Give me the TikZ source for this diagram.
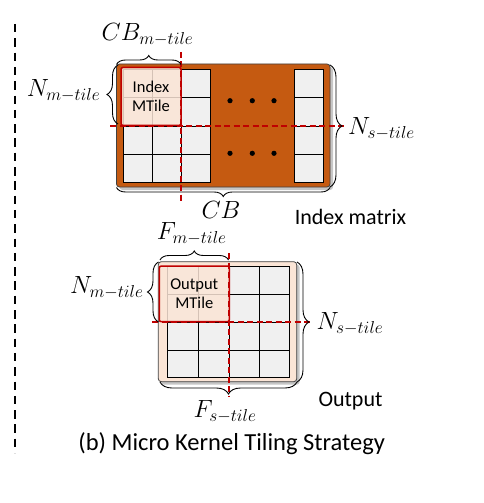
\documentclass[tikz,border=0pt]{standalone}
\usepackage{fontspec}
\setmainfont{Carlito}
\usetikzlibrary{shapes,arrows.meta,positioning,calc,shadows,decorations.pathreplacing}
\definecolor{idxbrown}{HTML}{C55A11}
\definecolor{tilepeach}{HTML}{FBE5D6}
\definecolor{tilered}{HTML}{C00000}
\definecolor{cellgray}{HTML}{F0F0F0}

\begin{document}
\begin{tikzpicture}[x=1pt, y=-1pt,
    matbox/.style={rectangle, draw=black!75, line width=0.8pt, rounded corners=3pt, inner sep=0pt, drop shadow={shadow xshift=3pt, shadow yshift=-3pt, opacity=0.45}},
    mtile/.style={rectangle, draw=tilered, line width=1.5pt, rounded corners=2pt, fill=tilepeach, fill opacity=0.85, text opacity=1, inner sep=0pt, align=center, font=\fontsize{16.5}{19.5}\selectfont},
    cell/.style={fill=cellgray, draw=black, line width=1pt},
    cut/.style={tilered, line width=1.1pt, dash pattern=on 6pt off 3.5pt},
    brc/.style={decorate, decoration={brace, amplitude=#1}, line width=0.9pt},
    mlbl/.style={font=\fontsize{24}{26}\selectfont, inner sep=0pt},
    tlbl/.style={font=\fontsize{22}{24}\selectfont, inner sep=0pt}
]
    \useasboundingbox (0,0) rectangle (483,503);

    % Separator on the left
    \draw[line width=2pt, dash pattern=on 8.5pt off 5.8pt] (15,24) -- (15,453);

    % Index matrix (top)
    \node[matbox, fill=idxbrown, minimum width=213.5pt, minimum height=123pt] (idxmat) at (223.25,125.5) {};
    \draw[cell] (123.5,69.3) rectangle (210,182.5);
    \draw[line width=1pt] (152.7,69.3) -- (152.7,182.5) (181,69.3) -- (181,182.5)
        (123.5,97.7) -- (210,97.7) (123.5,126) -- (210,126) (123.5,154.3) -- (210,154.3);
    \draw[cell] (294.3,69.3) rectangle (323.3,182.5);
    \draw[line width=1pt] (294.3,97.7) -- (323.3,97.7) (294.3,126) -- (323.3,126) (294.3,154.3) -- (323.3,154.3);
    \fill (230,100.7) circle (2.6pt) (252.3,100.7) circle (2.6pt) (274,100.7) circle (2.6pt);
    \fill (230,153.3) circle (2.6pt) (252.3,153.3) circle (2.6pt) (274,153.3) circle (2.6pt);
    \node[mtile, minimum width=60pt, minimum height=58pt] (idxtile) at (151,96.4) {Index\\MTile};

    % Tiling cuts and braces of the index matrix
    \draw[cut] (181,52) -- (181,203);
    \draw[cut] (110,126) -- (347,126);
    \draw[brc=9] (116.5,64.5) -- (181,64.5);
    \draw[brc=11] (118,124) -- (118,65);
    \draw[brc=12] (330,65) -- (330,187);
    \draw[brc=9] (330,187.5) -- (116.5,187.5);

    \node[mlbl] (cbm) at (147.5,35) {$CB_{m-tile}$};
    \node[mlbl] (nmi) at (63.5,91) {$N_{m-tile}$};
    \node[mlbl] (nsi) at (381.5,129) {$N_{s-tile}$};
    \node[mlbl] (cb) at (221,210) {$CB$};
    \node[tlbl] (idxlbl) at (350.5,216.5) {Index matrix};

    % Output matrix (bottom)
    \node[matbox, fill=tilepeach, minimum width=138.4pt, minimum height=120pt] (outmat) at (227.5,321.7) {};
    \draw[cell] (167.7,266.7) rectangle (289,377.7);
    \draw[line width=1pt] (198.7,266.7) -- (198.7,377.7) (229,266.7) -- (229,377.7) (259,266.7) -- (259,377.7)
        (167.7,294.3) -- (289,294.3) (167.7,322.3) -- (289,322.3) (167.7,350.7) -- (289,350.7);
    \node[mtile, minimum width=70pt, minimum height=55.7pt] (outtile) at (194.3,293.85) {Output\\MTile};

    % Tiling cuts and braces of the output
    \draw[cut] (229,253) -- (229,397);
    \draw[cut] (152,322) -- (313,322);
    \draw[brc=9] (160,260) -- (228.5,260);
    \draw[brc=11] (158.5,322) -- (158.5,262);
    \draw[brc=12] (297,262) -- (297,382);
    \draw[brc=12] (297,382) -- (160,382);

    \node[mlbl] (fm) at (191.7,234) {$F_{m-tile}$};
    \node[mlbl] (nmo) at (106.7,288) {$N_{m-tile}$};
    \node[mlbl] (nso) at (350,324) {$N_{s-tile}$};
    \node[mlbl] (fs) at (225,411.5) {$F_{s-tile}$};
    \node[tlbl] (outlbl) at (350.5,401) {Output};

    % Caption
    \node[tlbl, font=\fontsize{24.5}{26}\selectfont] (cap) at (231.7,444) {(b) Micro Kernel Tiling Strategy};
\end{tikzpicture}
\end{document}
